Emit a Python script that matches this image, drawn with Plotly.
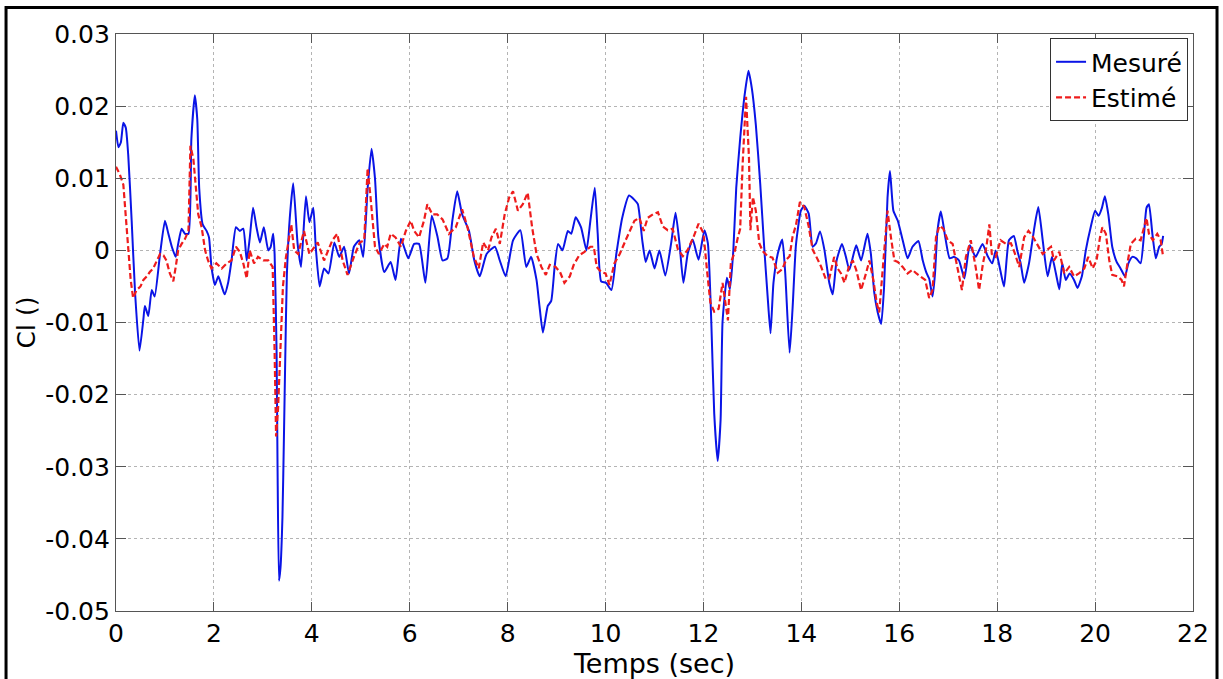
import numpy as np
import plotly.graph_objects as go

# Roll coefficient Cl, values stored in units of 1e-3
t_mes = [0.00, 0.05, 0.10, 0.15, 0.20, 0.25, 0.32, 0.39, 0.48, 0.56, 0.59, 0.66, 0.73, 0.79, 0.90,
         1.00, 1.07, 1.14, 1.22, 1.27, 1.34, 1.41, 1.48, 1.54, 1.61, 1.66, 1.70, 1.77, 1.85, 1.90,
         1.95, 2.02, 2.09, 2.16, 2.22, 2.29, 2.36, 2.45, 2.53, 2.60, 2.67, 2.73, 2.80, 2.87, 2.94,
         3.02, 3.11, 3.16, 3.21, 3.24, 3.28, 3.30, 3.33, 3.36, 3.40, 3.43, 3.46, 3.49, 3.55, 3.62,
         3.71, 3.78, 3.88, 3.95, 4.03, 4.08, 4.16, 4.25, 4.34, 4.46, 4.56, 4.66, 4.76, 4.86, 4.97,
         5.05, 5.14, 5.22, 5.29, 5.36, 5.48, 5.61, 5.71, 5.82, 5.97, 6.09, 6.19, 6.32, 6.45, 6.57,
         6.67, 6.77, 6.87, 6.97, 7.07, 7.21, 7.32, 7.43, 7.57, 7.74, 7.84, 7.96, 8.11, 8.26, 8.38,
         8.48, 8.59, 8.65, 8.72, 8.82, 8.89, 8.96, 9.03, 9.12, 9.23, 9.30, 9.39, 9.50, 9.61, 9.69,
         9.78, 9.84, 9.91, 10.01, 10.12, 10.22, 10.34, 10.48, 10.59, 10.66, 10.75, 10.82, 10.90,
         11.00, 11.10, 11.22, 11.34, 11.43, 11.51, 11.59, 11.68, 11.78, 11.90, 12.02, 12.09, 12.16,
         12.22, 12.29, 12.35, 12.39, 12.48, 12.54, 12.61, 12.67, 12.75, 12.84, 12.92, 12.99, 13.07,
         13.16, 13.24, 13.31, 13.37, 13.43, 13.52, 13.61, 13.67, 13.76, 13.82, 13.89, 13.99, 14.06,
         14.15, 14.23, 14.30, 14.38, 14.47, 14.57, 14.64, 14.72, 14.83, 14.91, 14.98, 15.12, 15.22,
         15.35, 15.42, 15.49, 15.56, 15.63, 15.69, 15.76, 15.81, 15.88, 15.97, 16.07, 16.17, 16.27,
         16.39, 16.48, 16.56, 16.61, 16.68, 16.73, 16.78, 16.85, 16.94, 17.03, 17.12, 17.22, 17.33,
         17.44, 17.56, 17.70, 17.80, 17.90, 17.97, 18.05, 18.14, 18.24, 18.34, 18.41, 18.48, 18.55,
         18.65, 18.76, 18.84, 18.93, 19.03, 19.12, 19.20, 19.27, 19.33, 19.40, 19.48, 19.57, 19.64,
         19.73, 19.81, 19.91, 20.00, 20.07, 20.14, 20.20, 20.27, 20.35, 20.44, 20.52, 20.61, 20.68,
         20.76, 20.84, 20.93, 21.00, 21.05, 21.10, 21.17, 21.24, 21.31, 21.36, 21.39]
cl_mes = [16.6, 14.3, 15.0, 17.7, 17.0, 13.2, 4.1, -5.9, -13.9, -9.5, -7.7, -9.1, -5.5, -6.4, -0.5,
          4.1, 2.3, 0.5, -0.9, 0.9, 3.0, 2.3, 2.3, 15.5, 21.5, 18.2, 8.6, 3.6, 2.7, 1.8,
          -2.3, -4.8, -3.6, -5.0, -6.1, -4.5, -1.4, 3.2, 2.7, 3.0, -1.4, 1.6, 5.9, 3.2, 1.1,
          3.2, 0.0, 0.5, 2.3, -0.5, -14.0, -30.0, -45.8, -44.0, -37.0, -26.0, -14.0, -3.5, 4.5, 9.3,
          0.9, -2.3, 7.5, 3.9, 5.9, 0.5, -5.0, -2.5, -3.2, 1.1, -0.9, 0.5, -3.2, 0.5, 1.4,
          -0.9, 8.6, 14.1, 10.0, 1.8, -3.0, -1.6, -4.1, 1.6, -1.1, 0.9, 0.9, -4.5, 4.8, 1.8,
          -1.4, -1.1, 4.1, 8.2, 5.0, 2.7, -1.4, -3.6, -0.5, 0.5, -1.4, -3.6, 1.4, 2.8, -2.3,
          -0.9, -4.1, -7.7, -11.4, -7.7, -7.0, -2.3, 0.9, 0.0, 2.7, 2.3, 4.6, 3.2, 0.0, 4.1,
          8.7, 2.3, -4.3, -4.5, -5.5, -0.5, 4.5, 7.6, 7.0, 6.4, 1.4, -1.6, 0.0,
          -2.5, 0.0, -3.5, 1.0, 5.2, 1.0, -4.5, -0.4, 1.5, -1.3, 2.8, 1.0, -9.9,
          -22.6, -29.2, -23.5, -9.9, -3.8, -5.4, 0.0, 8.7, 15.5, 21.5, 24.9, 22.4, 17.4,
          9.2, 0.5, -6.3, -11.5, -4.5, -0.4, 1.5, -3.1, -14.2, -8.1, 0.8, 5.5, 6.2,
          5.1, 0.5, 1.0, 2.6, 0.1, -4.5, -6.1, -1.4, 0.9, -0.9, -2.7, 0.7, -1.4,
          2.3, -0.5, -5.9, -8.6, -10.2, -5.0, 7.3, 11.0, 5.5, 4.1, 1.4, -1.1, 0.5,
          1.3, -1.4, -3.2, -3.9, -6.4, -3.2, 2.7, 5.4, 1.8, -1.1, -0.9, -1.4, -3.9,
          0.7, -0.9, 0.9, -0.7, -1.8, 0.0, -2.3, -5.0, 1.4, 2.0, 0.0, -1.8, -4.5,
          -1.8, 3.2, 6.0, 1.4, -3.6, -0.9, -3.2, -5.4, -1.8, -4.1, -3.2, -4.1, -5.2,
          -3.6, 0.0, 3.2, 5.5, 4.8, 5.9, 7.5, 5.0, 0.5, -1.6, -2.5, -3.6, -1.8,
          -0.9, -1.1, -1.8, 2.3, 5.9, 6.4, 2.3, -1.1, 0.5, 0.9, 2.0]

t_est = [0.00, 0.08, 0.15, 0.20, 0.25, 0.30, 0.35, 0.42, 0.50, 0.56, 0.63, 0.69, 0.76, 0.83, 0.90,
         0.97, 1.03, 1.10, 1.17, 1.22, 1.27, 1.34, 1.41, 1.48, 1.52, 1.58, 1.63, 1.68, 1.75, 1.82,
         1.88, 1.95, 2.05, 2.16, 2.26, 2.36, 2.45, 2.53, 2.60, 2.67, 2.73, 2.82, 2.90, 3.01, 3.11,
         3.20, 3.24, 3.27, 3.31, 3.36, 3.41, 3.47, 3.52, 3.58, 3.64, 3.72, 3.84, 3.95, 4.12, 4.25,
         4.42, 4.52, 4.63, 4.73, 4.86, 4.98, 5.07, 5.14, 5.20, 5.29, 5.37, 5.48, 5.54, 5.61, 5.71,
         5.82, 5.92, 6.02, 6.09, 6.19, 6.29, 6.36, 6.46, 6.56, 6.67, 6.80, 6.94, 7.07, 7.18, 7.31,
         7.41, 7.50, 7.60, 7.67, 7.76, 7.84, 7.94, 8.03, 8.11, 8.21, 8.31, 8.41, 8.50, 8.59, 8.69,
         8.78, 8.86, 8.98, 9.07, 9.16, 9.27, 9.35, 9.46, 9.57, 9.69, 9.76, 9.82, 9.91, 10.00, 10.08,
         10.18, 10.29, 10.41, 10.49, 10.59, 10.69, 10.78, 10.86, 10.97, 11.07, 11.17, 11.27, 11.37,
         11.48, 11.58, 11.68, 11.80, 11.90, 12.00, 12.07, 12.14, 12.22, 12.31, 12.39, 12.45, 12.50,
         12.56, 12.63, 12.70, 12.75, 12.80, 12.87, 12.93, 12.96, 13.01, 13.07, 13.14, 13.21, 13.31,
         13.41, 13.52, 13.61, 13.69, 13.76, 13.82, 13.89, 13.97, 14.06, 14.15, 14.23, 14.30, 14.40,
         14.50, 14.57, 14.67, 14.74, 14.81, 14.88, 14.97, 15.05, 15.12, 15.22, 15.32, 15.39, 15.47,
         15.54, 15.59, 15.66, 15.71, 15.76, 15.83, 15.90, 15.97, 16.07, 16.17, 16.27, 16.35, 16.44,
         16.53, 16.61, 16.68, 16.75, 16.82, 16.90, 16.99, 17.09, 17.19, 17.28, 17.36, 17.46, 17.56,
         17.63, 17.71, 17.78, 17.84, 17.89, 17.97, 18.07, 18.18, 18.28, 18.35, 18.45, 18.55, 18.64,
         18.72, 18.82, 18.93, 19.01, 19.10, 19.16, 19.27, 19.37, 19.47, 19.57, 19.67, 19.78, 19.86,
         19.95, 20.03, 20.10, 20.15, 20.22, 20.29, 20.35, 20.46, 20.54, 20.59, 20.66, 20.73, 20.83,
         20.93, 21.00, 21.05, 21.10, 21.18, 21.27, 21.34, 21.39]
cl_est = [11.6, 10.5, 9.1, 5.0, 0.5, -4.1, -6.6, -5.5, -5.0, -4.1, -3.6, -3.0, -2.5, -1.6, -0.5,
          -0.7, -1.4, -3.2, -4.3, -2.3, 0.0, 0.9, 1.6, 2.7, 14.5, 12.7, 9.1, 5.0, 3.2, 0.0,
          -1.4, -2.5, -1.8, -2.5, -1.8, -1.4, 0.5, -0.2, -1.8, -3.9, 0.0, -1.8, -0.9, -1.4, -1.4,
          -2.3, -14.0, -25.8, -22.0, -14.0, -5.0, -1.0, 1.4, 3.6, 0.0, -0.5, 2.7, -0.5, 1.1, -1.4,
          1.4, 2.3, -1.4, -3.4, -0.9, 1.1, 1.4, 11.4, 7.3, 0.5, -0.5, 0.9, 0.5, 2.3, 1.8,
          0.5, 2.7, 4.1, 2.7, 1.8, 4.1, 6.4, 5.0, 5.0, 4.3, 2.3, 3.2, 5.7, 3.2, -0.9,
          -2.5, 1.1, 0.0, 1.8, 3.0, 0.9, 5.0, 7.3, 8.2, 5.5, 6.4, 8.0, 3.2, -0.5, -2.3,
          -3.4, -2.0, -2.3, -3.0, -4.5, -3.6, -2.0, -0.7, -0.2, 0.5, 0.5, -2.3, -3.0, -3.2, -4.8,
          -1.8, -0.5, 1.4, 2.7, 4.1, 4.5, 2.7, 4.5, 5.0, 5.3, 3.3, 2.8, 3.0,
          0.1, -0.8, 0.1, 1.9, 3.7, 2.4, -2.6, -7.2, -8.5, -8.1, -4.5, -7.6, -9.7,
          -1.7, -0.4, 1.7, 3.0, 11.9, 21.3, 12.8, 2.8, 7.4, 5.5, 1.0, -0.1, -0.8,
          -1.0, -3.1, -2.6, -1.3, -0.8, 1.9, 3.5, 6.7, 6.0, 3.3, 0.1, -0.8, -2.2,
          -4.0, -3.9, -0.9, -2.5, -3.2, -4.5, -2.3, -1.4, -2.7, -5.5, -3.2, -1.4, -4.1,
          -7.3, -8.6, -3.2, 1.8, 5.5, 1.8, -1.4, -1.6, -2.3, -3.2, -2.7, -3.2, -3.6,
          -4.1, -6.6, -5.5, 1.8, 3.4, 3.0, 1.4, 0.9, -2.7, -5.5, -0.9, 1.4, -2.3,
          -5.5, -1.8, 0.5, 3.6, -0.5, -0.9, 1.4, 0.9, 1.0, -0.2, -2.3, 1.8, 2.7,
          2.0, 0.9, -0.5, 0.0, 0.5, -1.4, -0.2, -3.2, -2.3, -3.6, -3.2, -2.5, -0.9,
          -2.5, -1.4, 1.8, 3.2, 2.3, -1.4, -3.4, -3.6, -4.1, -5.0, -1.8, 0.9, 1.6,
          1.4, 3.2, 4.5, 2.3, 1.4, 2.3, 1.4, -0.9]

x_ticks = [0, 2, 4, 6, 8, 10, 12, 14, 16, 18, 20, 22]
y_ticks = [0.03, 0.02, 0.01, 0.0, -0.01, -0.02, -0.03, -0.04, -0.05]
y_tick_text = ["0.03", "0.02", "0.01", "0", "-0.01", "-0.02", "-0.03", "-0.04", "-0.05"]

FONT = "DejaVu Sans"

fig = go.Figure()
fig.add_trace(go.Scatter(
    x=t_mes, y=np.array(cl_mes) * 1e-3, mode="lines", name="Mesuré",
    line=dict(color="#0a14e6", width=2, shape="spline", smoothing=0.5),
))
fig.add_trace(go.Scatter(
    x=t_est, y=np.array(cl_est) * 1e-3, mode="lines", name="Estimé",
    line=dict(color="#ee1c1c", width=2.2, dash="6px,3px"),
))

axis_common = dict(
    showline=True, linecolor="#555555", linewidth=1.3, mirror="ticks",
    ticks="inside", tickcolor="#555555", tickwidth=1.3,
    showgrid=True, gridcolor="#b4b4b4", griddash="dot", gridwidth=1,
    zeroline=False, tickfont=dict(family=FONT, size=25, color="black"),
)

fig.update_xaxes(range=[0, 22], tickvals=x_ticks, ticklen=9,
                 title=dict(text="Temps (sec)", font=dict(family=FONT, size=27, color="black"),
                            standoff=0),
                 **axis_common)
fig.update_yaxes(range=[-0.05, 0.03], tickvals=y_ticks, ticktext=y_tick_text, ticklen=10,
                 title=dict(text="Cl ()", font=dict(family=FONT, size=25, color="black"),
                            standoff=2),
                 **axis_common)

# outer figure frame
fig.add_shape(type="rect", xref="paper", yref="paper",
              x0=-0.1021, x1=1.0223, y0=-0.14, y1=1.046,
              line=dict(color="black", width=3), fillcolor="rgba(0,0,0,0)", layer="above")

fig.update_layout(
    width=1223, height=679,
    margin=dict(l=116, r=30, t=34, b=58),
    paper_bgcolor="white", plot_bgcolor="white",
    showlegend=True,
    legend=dict(x=0.9954, y=0.993, xanchor="right", yanchor="top",
                bgcolor="white", bordercolor="#333333", borderwidth=1,
                font=dict(family=FONT, size=25, color="black"),
                tracegroupgap=0, itemwidth=30),
)

fig.write_html("out.html")
